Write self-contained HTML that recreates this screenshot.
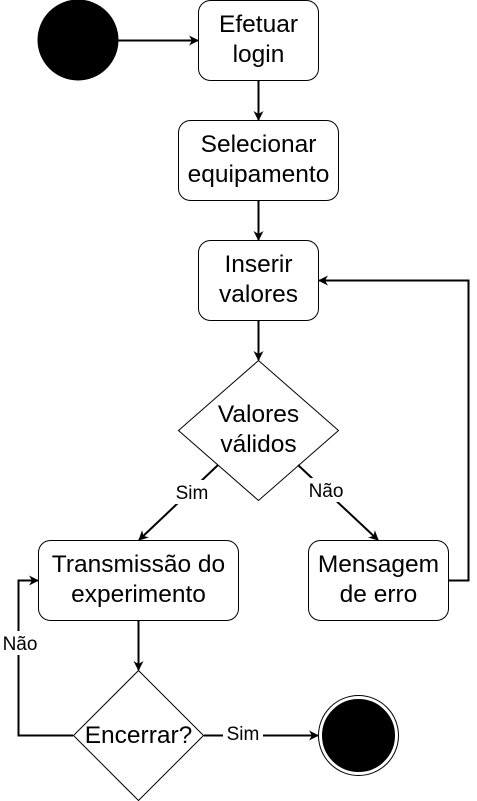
<!DOCTYPE html>
<html><head><meta charset="utf-8"><style>body{margin:0;background:#fff}svg{display:block}text{font-family:"Liberation Sans",Arial,sans-serif;fill:#000}</style></head>
<body>
<svg width="477" height="801" viewBox="0 0 477 801" xmlns="http://www.w3.org/2000/svg">
<defs><marker id="a" markerWidth="10" markerHeight="10" refX="9" refY="5" orient="auto" markerUnits="userSpaceOnUse"><path d="M0,0 L10,5 L0,10 L3,5 Z" fill="#000"/></marker></defs>
<g fill="#fff" stroke="#000" stroke-width="1">
<circle cx="78" cy="40" r="40" fill="#000"/>
<rect x="198.5" y="0.5" width="120" height="80" rx="12"/>
<rect x="178.5" y="120.5" width="160" height="80" rx="12"/>
<rect x="198.5" y="240.5" width="120" height="80" rx="12"/>
<polygon points="258.5,360.5 338.5,430.5 258.5,500.5 178.5,430.5"/>
<rect x="38.5" y="540.5" width="200" height="80" rx="12"/>
<rect x="308.5" y="540.5" width="140" height="80" rx="12"/>
<polygon points="138.5,670.5 203.5,735.5 138.5,800.5 73.5,735.5"/>
<circle cx="358.5" cy="735.5" r="40"/>
<circle cx="358.5" cy="735.5" r="36" fill="#000"/>
</g>
<g fill="none" stroke="#000" stroke-width="2" marker-end="url(#a)">
<line x1="118" y1="40.5" x2="198" y2="40.5"/>
<line x1="258.5" y1="81" x2="258.5" y2="120"/>
<line x1="258.5" y1="201" x2="258.5" y2="240"/>
<line x1="258.5" y1="321" x2="258.5" y2="360"/>
<polyline points="449,580.5 468.5,580.5 468.5,280.5 319,280.5"/>
<line x1="218" y1="465" x2="139" y2="540"/>
<line x1="298" y1="465" x2="378" y2="540"/>
<line x1="138.5" y1="621" x2="138.5" y2="670"/>
<polyline points="73,735.5 18.5,735.5 18.5,580.5 38,580.5"/>
<line x1="204" y1="735.5" x2="318" y2="735.5"/>
</g>
<g font-size="24.5" text-anchor="middle">
<text x="258.5" y="32">Efetuar</text><text x="258.5" y="62">login</text>
<text x="258.5" y="152">Selecionar</text><text x="258.5" y="182">equipamento</text>
<text x="258.5" y="272">Inserir</text><text x="258.5" y="302">valores</text>
<text x="258.5" y="422">Valores</text><text x="258.5" y="452">válidos</text>
<text x="138.5" y="572">Transmissão do</text><text x="138.5" y="602">experimento</text>
<text x="378.5" y="572">Mensagem</text><text x="378.5" y="602">de erro</text>
<text x="138.5" y="743">Encerrar?</text>
</g>
<g font-size="19" text-anchor="middle">
<rect x="172" y="480" width="40" height="24" fill="#fff"/><text x="192" y="499">Sim</text>
<rect x="304" y="478" width="44" height="24" fill="#fff"/><text x="326" y="497">Não</text>
<rect x="0" y="631" width="40" height="24" fill="#fff"/><text x="20" y="650">Não</text>
<rect x="223" y="723" width="40" height="22" fill="#fff"/><text x="243" y="740">Sim</text>
</g>
</svg>
</body></html>
